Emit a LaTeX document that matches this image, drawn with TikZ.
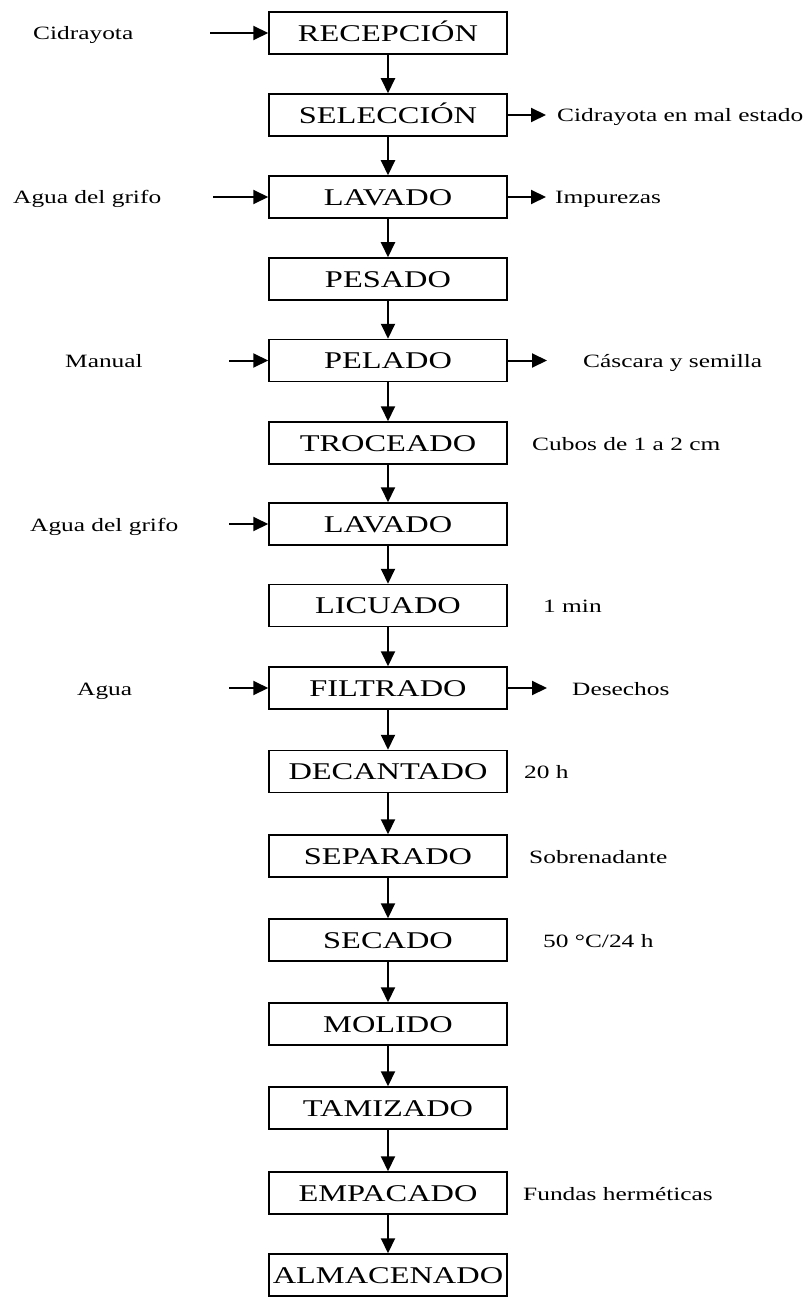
\documentclass[tikz,border=0pt]{standalone}
\usepackage{fontspec}
\setmainfont{Liberation Serif}[FakeStretch=1.35]
\usetikzlibrary{arrows.meta}
\begin{document}
\begin{tikzpicture}[x=1pt,y=-1pt,
  box/.style={draw,line width=1.5pt,minimum width=238pt,minimum height=42pt,inner sep=0pt,
    font=\fontsize{24}{24}\selectfont,text height=16.5pt,text depth=0pt},
  lbl/.style={anchor=west,inner sep=0pt,font=\fontsize{18.8}{18.8}\selectfont,text height=14pt,text depth=0pt},
  flow/.style={line width=2pt,-{Triangle[length=15pt,width=14pt]}}]
\useasboundingbox (0,0) rectangle (810,1297);
\fill[white] (0,0) rectangle (810,1297);

% process boxes
\node[box] (b0) at (388,33) {RECEPCIÓN};
\node[box] (b1) at (388,115) {SELECCIÓN};
\node[box] (b2) at (388,197) {LAVADO};
\node[box] (b3) at (388,279) {PESADO};
\node[box] (b4) at (388,360.5) {PELADO};
\node[box] (b5) at (388,443) {TROCEADO};
\node[box] (b6) at (388,524) {LAVADO};
\node[box] (b7) at (388,605.5) {LICUADO};
\node[box] (b8) at (388,688) {FILTRADO};
\node[box] (b9) at (388,771.5) {DECANTADO};
\node[box] (b10) at (388,856) {SEPARADO};
\node[box] (b11) at (388,940) {SECADO};
\node[box] (b12) at (388,1024) {MOLIDO};
\node[box] (b13) at (388,1108) {TAMIZADO};
\node[box] (b14) at (388,1193) {EMPACADO};
\node[box] (b15) at (388,1275) {ALMACENADO};

\foreach \i/\j in {0/1,1/2,2/3,3/4,4/5,5/6,6/7,7/8,8/9,9/10,10/11,11/12,12/13,13/14,14/15}
  \draw[flow] (b\i) -- (b\j);

% inputs (left)
\node[lbl] (l0) at (33,33) {Cidrayota};
\coordinate (a0) at (210,33);
\draw[flow] (a0) -- (b0);
\node[lbl] (l2) at (13,197) {Agua del grifo};
\coordinate (a2) at (213,197);
\draw[flow] (a2) -- (b2);
\node[lbl] (l4) at (65,360.5) {Manual};
\coordinate (a4) at (229,360.5);
\draw[flow] (a4) -- (b4);
\node[lbl] (l6) at (30,524) {Agua del grifo};
\coordinate (a6) at (229,524);
\draw[flow] (a6) -- (b6);
\node[lbl] (l8) at (77,688) {Agua};
\coordinate (a8) at (229,688);
\draw[flow] (a8) -- (b8);

% outputs (right)
\coordinate (e1) at (546,115);
\draw[flow] (b1.east) -- (e1);
\node[lbl] (r1) at (557,115) {Cidrayota en mal estado};
\coordinate (e2) at (546,197);
\draw[flow] (b2.east) -- (e2);
\node[lbl] (r2) at (555,197) {Impurezas};
\coordinate (e4) at (547,360.5);
\draw[flow] (b4.east) -- (e4);
\node[lbl] (r4) at (583,360.5) {Cáscara y semilla};
\coordinate (e8) at (547,688);
\draw[flow] (b8.east) -- (e8);
\node[lbl] (r8) at (572,688) {Desechos};

% conditions (right, no arrow)
\node[lbl] (r5) at (532,443) {Cubos de 1 a 2 cm};
\node[lbl] (r7) at (543,605.5) {1 min};
\node[lbl] (r9) at (524,771.5) {20 h};
\node[lbl] (r10) at (529,856) {Sobrenadante};
\node[lbl] (r11) at (543,940) {50 °C/24 h};
\node[lbl] (r14) at (523,1193) {Fundas herméticas};
\end{tikzpicture}
\end{document}
